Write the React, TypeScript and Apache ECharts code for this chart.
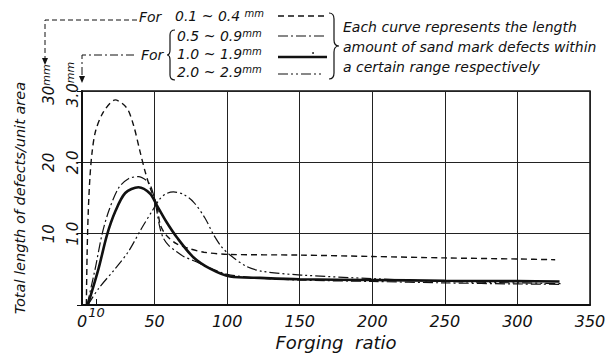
import React, { useEffect, useRef } from 'react';
import * as echarts from 'echarts';

// ---- data ----
const seriesNames = ['0.1 ~ 0.4 mm', '0.5 ~ 0.9mm', '1.0 ~ 1.9mm', '2.0 ~ 2.9mm'];

const xA = [3, 3.5, 4.3, 5.5, 7, 9.5, 14.9, 22.9, 30.9, 35.5, 40, 43.5, 47, 51.5, 54, 58, 65, 74, 84, 100, 150, 200, 250, 300, 326];
const yA = [0, 0.7, 1.3, 1.8, 2.15, 2.45, 2.71, 2.875, 2.76, 2.52, 2.15, 1.87, 1.64, 1.4, 1.12, 0.98, 0.86, 0.79, 0.74, 0.71, 0.7, 0.68, 0.66, 0.645, 0.635];

const xB = [3.5, 9.1, 13.7, 18.3, 25.2, 32, 38.9, 45.8, 48.5, 51, 53.5, 56, 60, 65, 70, 77, 88, 100, 120, 150, 200, 250, 300, 330];
const yB = [0, 0.51, 0.98, 1.31, 1.64, 1.77, 1.8, 1.72, 1.6, 1.38, 1.1, 0.94, 0.83, 0.75, 0.68, 0.62, 0.52, 0.43, 0.38, 0.35, 0.33, 0.31, 0.295, 0.29];

const xC = [4, 11.4, 17.2, 22.9, 29.8, 38.9, 47, 51.5, 58, 65.3, 76.7, 88.2, 102, 122.5, 150, 200, 250, 300, 329];
const yC = [0, 0.51, 0.98, 1.31, 1.57, 1.65, 1.56, 1.4, 1.17, 0.95, 0.67, 0.51, 0.4, 0.38, 0.36, 0.35, 0.34, 0.335, 0.33];

const xD = [4, 11.4, 22.9, 32, 41.2, 48.1, 53.8, 58, 63, 70, 77, 84.7, 90.5, 96, 102, 113.4, 124.8, 151, 200, 250, 300, 330];
const yD = [0, 0.23, 0.51, 0.75, 1.08, 1.31, 1.49, 1.56, 1.585, 1.55, 1.44, 1.22, 0.99, 0.82, 0.7, 0.54, 0.47, 0.42, 0.37, 0.33, 0.31, 0.3];

const yTickValues = [0, 1, 2, 3];
const innerYLabels = ['', '1.0', '2.0', '3.0'];
const outerYLabels = ['', '10', '20', '30'];
const extraXLabelValues = [10];

const noteLines = [
  'Each curve represents the length',
  'amount of sand mark defects within',
  'a certain range respectively',
];

const INK = '#111';
const NUM_FONT = "'Liberation Sans Narrow', 'DejaVu Sans', sans-serif";
const TXT_FONT = "'DejaVu Sans', sans-serif";

const pairs = (xs: number[], ys: number[]) => xs.map((x, i) => [x, ys[i]]);

const yLabel = (labels: string[]) => (v: number) => {
  const i = yTickValues.indexOf(v);
  if (i < 0) return '';
  if (v === yTickValues[yTickValues.length - 1]) return `{p|}${labels[i]}{s|mm}`;
  return labels[i];
};

export default function App() {
  const ref = useRef<HTMLDivElement>(null);
  useEffect(() => {
    if (!ref.current) return;
    const chart = echarts.init(ref.current, undefined, { renderer: 'svg' });

    const rowText = (t: string, x: number, y: number) => ({
      type: 'text',
      x,
      y,
      style: {
        text: t,
        fontFamily: TXT_FONT,
        fontStyle: 'italic',
        fontSize: 14,
        fill: INK,
        verticalAlign: 'middle',
        rich: {
          s: { fontSize: 10, fontStyle: 'italic', fontFamily: TXT_FONT, fill: INK, verticalAlign: 'top', padding: [0, 0, 6, 0] },
        },
      },
    });

    echarts.graphic.registerShape(
      'rbrace',
      echarts.graphic.extendPath('M 0 0 Q 5 0 5 6 L 5 27 Q 5 33 10 33 Q 5 33 5 39 L 5 60 Q 5 66 0 66', {})
    );
    echarts.graphic.registerShape(
      'lbrace',
      echarts.graphic.extendPath('M 8 0 Q 3 0 3 5 L 3 20 Q 3 25 0 25 Q 3 25 3 30 L 3 45 Q 3 50 8 50', {})
    );

    const lineStyles = [
      { type: [6, 4], width: 1.4 },
      { type: [10, 3, 2, 3], width: 1.2 },
      { type: 'solid', width: 2.6 },
      { type: [10, 3, 2, 3, 2, 3], width: 1.2 },
    ];
    const dataSets = [pairs(xA, yA), pairs(xB, yB), pairs(xC, yC), pairs(xD, yD)];

    chart.setOption({
      animation: false,
      backgroundColor: '#fff',
      grid: {
        left: 82,
        top: 91,
        right: 16,
        bottom: 49,
        show: true,
        borderColor: INK,
        borderWidth: 1.5,
        outerBoundsMode: 'none',
      },
      xAxis: [
        {
          type: 'value',
          min: 0,
          max: 350,
          interval: 50,
          position: 'bottom',
          name: 'Forging  ratio',
          nameLocation: 'middle',
          nameGap: 27,
          nameTextStyle: { fontFamily: TXT_FONT, fontStyle: 'italic', fontSize: 18, color: INK },
          axisLine: { show: true, lineStyle: { color: INK, width: 2 } },
          axisTick: { show: false },
          splitLine: { show: true, lineStyle: { color: '#222', width: 1 } },
          axisLabel: { fontFamily: NUM_FONT, fontStyle: 'italic', fontSize: 16, color: INK, margin: 8 },
        },
        {
          type: 'value',
          min: 0,
          max: 350,
          position: 'bottom',
          axisLine: { show: false },
          axisTick: { show: true, inside: true, length: 6, customValues: extraXLabelValues, lineStyle: { color: INK, width: 1 } },
          splitLine: { show: false },
          axisLabel: { customValues: extraXLabelValues, fontFamily: NUM_FONT, fontStyle: 'italic', fontSize: 13, color: INK, margin: 1 },
        },
      ],
      yAxis: [
        {
          type: 'value',
          min: 0,
          max: 3,
          interval: 1,
          position: 'left',
          name: 'Total length of defects/unit area',
          nameLocation: 'middle',
          nameRotate: 90,
          nameGap: 55,
          nameTextStyle: { fontFamily: TXT_FONT, fontStyle: 'italic', fontSize: 14.5, color: INK },
          axisLine: { show: true, lineStyle: { color: INK, width: 2 } },
          axisTick: { show: false },
          splitLine: { show: true, lineStyle: { color: '#222', width: 1 } },
          axisLabel: {
            rotate: 90,
            margin: 2,
            fontFamily: NUM_FONT,
            fontStyle: 'italic',
            fontSize: 15,
            color: INK,
            formatter: yLabel(innerYLabels),
            rich: {
              p: { width: 13 },
              s: { fontSize: 11, fontStyle: 'italic', fontFamily: NUM_FONT, color: INK, verticalAlign: 'top' },
            },
          },
        },
        {
          type: 'value',
          min: 0,
          max: 3,
          interval: 1,
          position: 'left',
          offset: 24,
          axisLine: { show: false },
          axisTick: { show: true, length: 5, lineStyle: { color: INK, width: 1 } },
          splitLine: { show: false },
          axisLabel: {
            rotate: 90,
            margin: 2,
            fontFamily: NUM_FONT,
            fontStyle: 'italic',
            fontSize: 15,
            color: INK,
            formatter: yLabel(outerYLabels),
            rich: {
              p: { width: 13 },
              s: { fontSize: 11, fontStyle: 'italic', fontFamily: NUM_FONT, color: INK, verticalAlign: 'top' },
            },
          },
        },
      ],
      series: seriesNames.map((name, i) => ({
        name,
        type: 'line',
        xAxisIndex: 0,
        yAxisIndex: 0,
        data: dataSets[i],
        smooth: 0.3,
        showSymbol: false,
        symbol: 'none',
        lineStyle: { color: INK, width: lineStyles[i].width, type: lineStyles[i].type },
      })),
      graphic: [
        // leaders and arrows
        { type: 'polyline', shape: { points: [[137, 20], [45, 20], [45, 60]] }, style: { stroke: INK, lineWidth: 1, lineDash: [5, 3], fill: null } },
        { type: 'polygon', shape: { points: [[42, 58], [48, 58], [45, 65]] }, style: { fill: INK } },
        { type: 'polyline', shape: { points: [[134, 55], [82, 55], [82, 77]] }, style: { stroke: INK, lineWidth: 1, lineDash: [8, 3, 2, 3], fill: null } },
        { type: 'polygon', shape: { points: [[79, 76], [85, 76], [82, 83]] }, style: { fill: INK } },
        // "For" labels
        rowText('For', 139, 17),
        rowText('For', 141, 55),
        // left brace
        { type: 'lbrace', x: 167, y: 30, style: { stroke: INK, lineWidth: 1.2, fill: null } },
        // rows
        rowText(`0.1 ~ 0.4 {s|mm}`, 175, 16),
        rowText(`0.5 ~ 0.9{s|mm}`, 177, 36),
        rowText(`1.0 ~ 1.9{s|mm}`, 177, 54),
        rowText(`2.0 ~ 2.9{s|mm}`, 177, 72),
        // legend samples
        { type: 'line', shape: { x1: 278, y1: 16, x2: 327, y2: 16 }, style: { stroke: INK, lineWidth: 1.4, lineDash: [6, 4] } },
        { type: 'line', shape: { x1: 278, y1: 36, x2: 327, y2: 36 }, style: { stroke: INK, lineWidth: 1.2, lineDash: [10, 3, 2, 3] } },
        { type: 'line', shape: { x1: 278, y1: 57, x2: 327, y2: 57 }, style: { stroke: INK, lineWidth: 2.6 } },
        { type: 'circle', shape: { cx: 313, cy: 53, r: 0.9 }, style: { fill: INK } },
        { type: 'line', shape: { x1: 278, y1: 74, x2: 322, y2: 74 }, style: { stroke: INK, lineWidth: 1.2, lineDash: [10, 3, 2, 3, 2, 3] } },
        // right brace
        { type: 'rbrace', x: 329, y: 13, style: { stroke: INK, lineWidth: 1.2, fill: null } },
        // note
        ...noteLines.map((t, i) => ({
          type: 'text',
          x: 343,
          y: 27 + i * 20,
          style: { text: t, fontFamily: TXT_FONT, fontStyle: 'italic', fontSize: 14, fill: INK, verticalAlign: 'middle' },
        })),
      ],
    });
    return () => chart.dispose();
  }, []);

  return <div ref={ref} style={{ position: 'fixed', left: 0, top: 0, width: 606, height: 354, background: '#fff' }} />;
}
